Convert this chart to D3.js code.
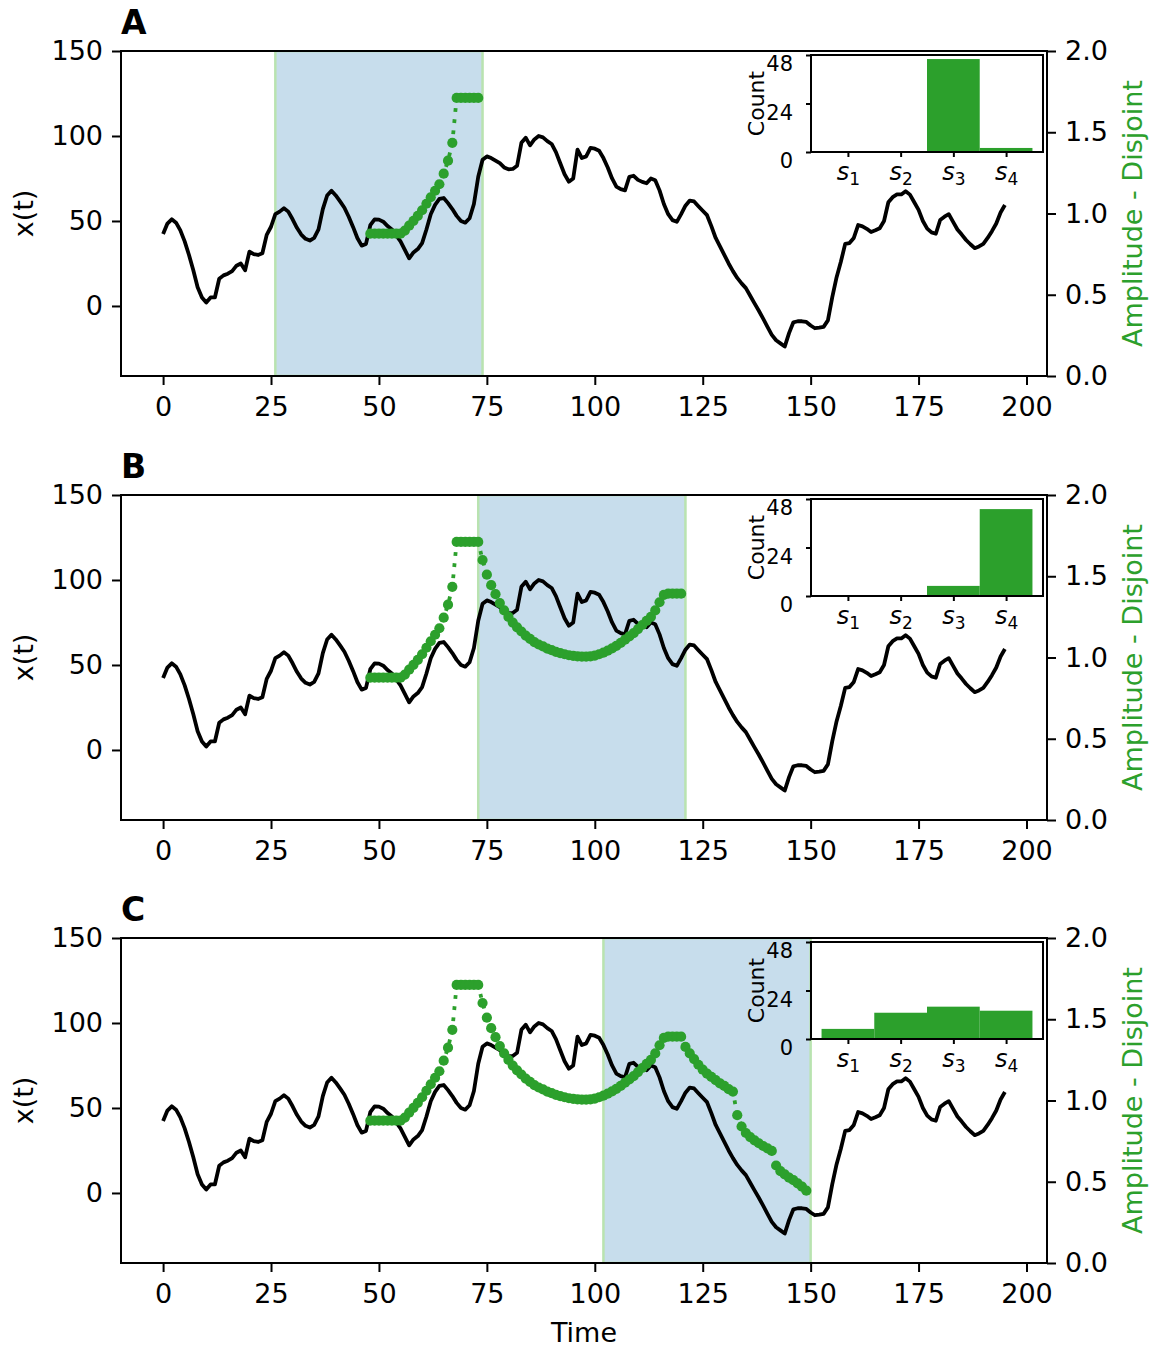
<!DOCTYPE html>
<html>
<head>
<meta charset="utf-8">
<script src="https://cdn.jsdelivr.net/npm/d3@7"></script>
<style>
  body { margin: 0; background: #fff; }
  text { font-family: "DejaVu Sans", sans-serif; }
</style>
</head>
<body>
<div id="chart"></div>
<script>
// x(t), one value per time step from t = 0
const signal = [
  42.4, 48.5, 51, 49, 44.5, 38, 30, 21, 11, 5,
  2, 5, 5, 16, 18, 19, 20.5, 23.7, 25, 21,
  32, 30.5, 30, 31, 41.8, 46.6, 54, 55.5, 57.5, 55.5,
  51, 46, 42, 39.5, 38.5, 40, 45, 57, 65, 67.8,
  65, 61.5, 57.8, 52.5, 46.5, 40, 35.5, 36.5, 47.5, 51,
  50.8, 49.6, 47, 45, 41.5, 38, 33, 28, 31.5, 33.5,
  37, 45, 54, 59.5, 63, 63.5, 60.5, 57, 53, 50,
  49, 51.6, 60, 76, 86, 88, 87, 85.5, 84, 81.5,
  80.4, 80.6, 82.5, 96, 99, 94.5, 98, 100, 99.2, 97,
  95.3, 90.5, 84, 77.5, 73.1, 75, 92, 87, 88, 93,
  92.5, 91.3, 87, 81.5, 75, 70.2, 68.7, 68, 76, 76.6,
  74.2, 73, 72.2, 75, 74, 68, 60, 54, 50.5, 49.5,
  54, 59, 62, 61.5, 58.7, 56, 53.4, 47, 40, 35,
  30, 25, 20.5, 16.5, 13.3, 10.5, 6, 1.5, -2.8, -7.5,
  -12.3, -17, -20.2, -22, -23.9, -16, -9.6, -9, -9, -9.4,
  -11.5, -13.1, -12.8, -12.3, -8.5, 5, 16.8, 26, 36.5, 37,
  40, 47.6, 46.8, 45.4, 43.5, 44.5, 45.7, 50, 61, 64,
  65.6, 65.6, 67.5, 65.5, 61, 56.5, 50, 45.5, 43.3, 42.5,
  50.6, 52.5, 54, 49.5, 45, 42, 38.8, 36.3, 34, 35,
  36.5, 40, 44, 48.5, 55, 59.4
];

// Amplitude - Disjoint, one value per step from t = ampStart
const ampStart = 48;
const amplitude = [
  0.876, 0.876, 0.876, 0.876, 0.876, 0.876, 0.876, 0.876,
  0.895, 0.925, 0.955, 0.985, 1.02, 1.06, 1.10, 1.14, 1.18, 1.245, 1.325, 1.435,
  1.711, 1.711, 1.711, 1.711, 1.711, 1.711,
  1.60, 1.51, 1.445, 1.39, 1.335, 1.29, 1.25, 1.215, 1.185, 1.16,
  1.135, 1.115, 1.095, 1.08, 1.068, 1.055, 1.045, 1.035, 1.027, 1.02,
  1.014, 1.01, 1.007, 1.005, 1.005, 1.007, 1.012, 1.02, 1.03, 1.042,
  1.056, 1.072, 1.09, 1.11, 1.13, 1.15, 1.175, 1.2, 1.225, 1.25,
  1.29, 1.34, 1.385,
  1.393, 1.393, 1.393, 1.393,
  1.33, 1.29, 1.255, 1.22, 1.19, 1.165, 1.145, 1.125, 1.105, 1.09,
  1.07, 1.055, 0.91, 0.84, 0.80, 0.775, 0.755, 0.737, 0.72, 0.705,
  0.69, 0.60, 0.565, 0.545, 0.525, 0.51, 0.49, 0.47, 0.445
];

const panelLabels = ["A", "B", "C"];
const windowStart = [26, 73, 102];
const windowEnd = [74, 121, 150];
const ampLast = [73, 120, 149];

const states = ["1", "2", "3", "4"];
const stateCounts = [
  [0, 0, 46, 2],
  [0, 0, 5, 43],
  [5, 13, 16, 14]
];

const xTicks = [0, 25, 50, 75, 100, 125, 150, 175, 200];
const yTicks = [0, 50, 100, 150];
const ampTicks = [0, 0.5, 1.0, 1.5, 2.0];
const countTicks = [0, 24, 48];

const width = 1155, height = 1349;
const left = 121, right = 1047;
const panelTop = [51, 495, 938];
const panelH = 325;
const green = "#2ca02c";

const svg = d3.select("#chart").append("svg")
  .attr("width", width)
  .attr("height", height);

svg.append("rect").attr("width", width).attr("height", height).attr("fill", "#fff");

const x = d3.scaleLinear().domain([-9.75, 204.75]).range([left, right]);
const y = d3.scaleLinear().domain([-41.2, 150]).range([panelH, 0]);
const yR = d3.scaleLinear().domain([0, 2]).range([panelH, 0]);

svg.append("clipPath").attr("id", "clip")
  .append("rect")
  .attr("x", left).attr("y", 0)
  .attr("width", right - left).attr("height", panelH);

const line = d3.line()
  .x((d, i) => x(i))
  .y(d => y(d));

function styleAxis(g, size) {
  g.select(".domain").remove();
  g.selectAll(".tick line").attr("stroke", "#000").attr("stroke-width", 2);
  g.selectAll(".tick text")
    .attr("fill", "#000")
    .attr("font-size", size)
    .attr("font-family", "DejaVu Sans, sans-serif");
}

panelLabels.forEach((label, p) => {
  const g = svg.append("g").attr("transform", `translate(0,${panelTop[p]})`);
  const plot = g.append("g").attr("clip-path", "url(#clip)");

  // shaded window
  plot.append("rect")
    .attr("x", x(windowStart[p]))
    .attr("y", 0)
    .attr("width", x(windowEnd[p]) - x(windowStart[p]))
    .attr("height", panelH)
    .attr("fill", "#1f77b4")
    .attr("fill-opacity", 0.25)
    .attr("stroke", "#b9e3b0")
    .attr("stroke-width", 2.5);

  // x(t)
  plot.append("path")
    .datum(signal)
    .attr("fill", "none")
    .attr("stroke", "#000")
    .attr("stroke-width", 3.8)
    .attr("stroke-linejoin", "round")
    .attr("d", line);

  // amplitude, dotted line with markers
  const amp = amplitude
    .map((v, i) => ({ t: ampStart + i, v: v }))
    .filter(d => d.t <= ampLast[p]);

  plot.append("path")
    .datum(amp)
    .attr("fill", "none")
    .attr("stroke", green)
    .attr("stroke-width", 3.8)
    .attr("stroke-dasharray", "3.8 7.4")
    .attr("d", d3.line().x(d => x(d.t)).y(d => yR(d.v)));

  plot.selectAll("circle.amp")
    .data(amp)
    .join("circle")
    .attr("class", "amp")
    .attr("cx", d => x(d.t))
    .attr("cy", d => yR(d.v))
    .attr("r", 5.1)
    .attr("fill", green);

  // frame
  g.append("rect")
    .attr("x", left).attr("y", 0)
    .attr("width", right - left).attr("height", panelH)
    .attr("fill", "none")
    .attr("stroke", "#000")
    .attr("stroke-width", 2);

  // axes
  g.append("g")
    .attr("transform", `translate(0,${panelH})`)
    .call(d3.axisBottom(x).tickValues(xTicks).tickSize(9).tickPadding(12))
    .call(ax => styleAxis(ax, 27));

  g.append("g")
    .attr("transform", `translate(${left},0)`)
    .call(d3.axisLeft(y).tickValues(yTicks).tickSize(9).tickPadding(9))
    .call(ax => styleAxis(ax, 27));

  g.append("g")
    .attr("transform", `translate(${right},0)`)
    .call(d3.axisRight(yR).tickValues(ampTicks).tickFormat(d3.format(".1f")).tickSize(9).tickPadding(9))
    .call(ax => styleAxis(ax, 27));

  // axis labels
  g.append("text")
    .attr("transform", `translate(33,${panelH / 2}) rotate(-90)`)
    .attr("text-anchor", "middle")
    .attr("font-size", 27)
    .text("x(t)");

  g.append("text")
    .attr("transform", `translate(1142,${panelH / 2}) rotate(-90)`)
    .attr("text-anchor", "middle")
    .attr("font-size", 27)
    .attr("fill", green)
    .text("Amplitude - Disjoint");

  g.append("text")
    .attr("x", 121)
    .attr("y", -17)
    .attr("font-size", 33)
    .attr("font-weight", "bold")
    .text(label);

  // inset histogram
  const iw = 232, ih = 97;
  const inset = g.append("g").attr("transform", `translate(811,4)`);
  const xi = d3.scaleLinear().domain([-0.7, 3.7]).range([0, iw]);
  const yi = d3.scaleLinear().domain([0, 48]).range([ih, 0]);

  inset.append("rect").attr("width", iw).attr("height", ih).attr("fill", "#fff");

  inset.selectAll("rect.bar")
    .data(stateCounts[p])
    .join("rect")
    .attr("class", "bar")
    .attr("x", (d, i) => xi(i - 0.5))
    .attr("width", (d, i) => xi(i + 0.5) - xi(i - 0.5))
    .attr("y", d => yi(d))
    .attr("height", d => yi(0) - yi(d))
    .attr("fill", green);

  inset.append("rect")
    .attr("width", iw).attr("height", ih)
    .attr("fill", "none")
    .attr("stroke", "#000")
    .attr("stroke-width", 2);

  inset.append("g")
    .call(d3.axisLeft(yi).tickValues(countTicks).tickSize(5).tickPadding(13))
    .call(ax => styleAxis(ax, 21))
    .call(ax => ax.selectAll(".tick text").attr("dy", "0.75em"));

  const bx = inset.append("g")
    .attr("transform", `translate(0,${ih})`)
    .call(d3.axisBottom(xi).tickValues(d3.range(states.length)).tickSize(5).tickFormat(""))
    .call(ax => styleAxis(ax, 22));

  bx.selectAll(".tick").each(function(d) {
    const t = d3.select(this).append("text")
      .attr("y", 28)
      .attr("text-anchor", "middle")
      .attr("fill", "#000")
      .attr("font-size", 24);
    t.append("tspan").attr("font-style", "italic").text("s");
    t.append("tspan").attr("font-size", 17).attr("dy", 5).text(states[d]);
  });

  inset.append("text")
    .attr("transform", `translate(-47,${ih / 2}) rotate(-90)`)
    .attr("text-anchor", "middle")
    .attr("font-size", 22)
    .text("Count");
});

svg.append("text")
  .attr("x", (left + right) / 2)
  .attr("y", 1342)
  .attr("text-anchor", "middle")
  .attr("font-size", 27)
  .text("Time");
</script>
</body>
</html>
